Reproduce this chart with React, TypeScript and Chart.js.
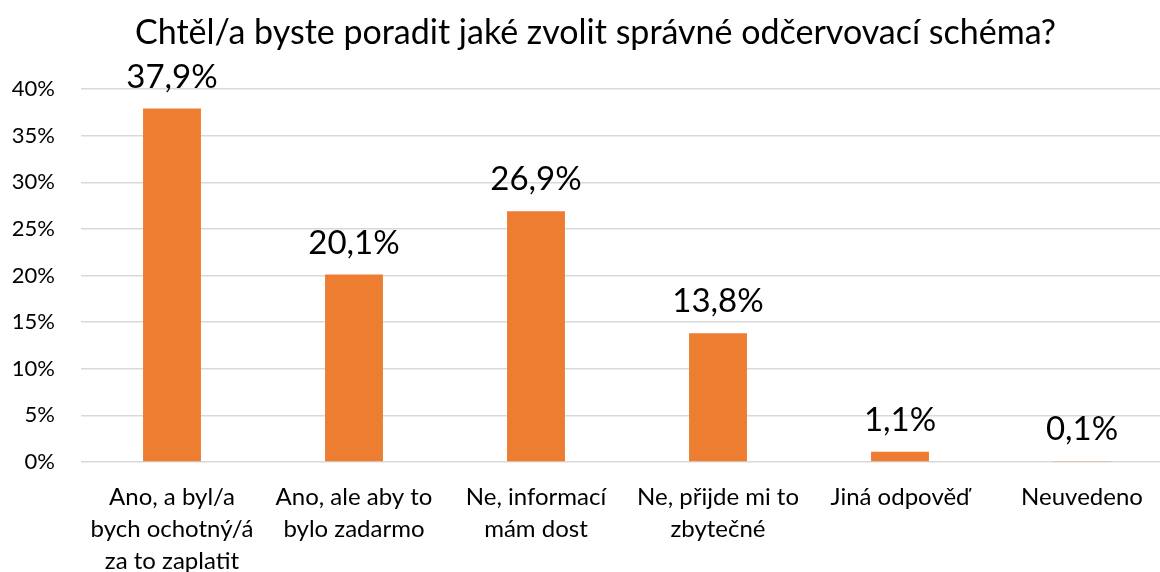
import React, { useEffect, useRef } from "react";
import { Chart, registerables } from "chart.js";

Chart.register(...registerables);

const TITLE = "Chtěl/a byste poradit jaké zvolit správné odčervovací schéma?";
const CATEGORIES: string[][] = [
  ["Ano, a byl/a", "bych ochotný/á", "za to zaplatit"],
  ["Ano, ale aby to", "bylo zadarmo"],
  ["Ne, informací", "mám dost"],
  ["Ne, přijde mi to", "zbytečné"],
  ["Jiná odpověď"],
  ["Neuvedeno"],
];
const VALUES: number[] = [37.9, 20.1, 26.9, 13.8, 1.1, 0.1];
const Y_MIN = 0;
const Y_MAX = 40;
const Y_STEP = 5;

const FONT = "Lato, 'Open Sans', sans-serif";
const BAR_COLOR = "#ED7D31";
const GRID_COLOR = "#D9D9D9";

const fmt = (v: number) => v.toFixed(1).replace(".", ",") + "%";

const valueLabels = {
  id: "valueLabels",
  afterDatasetsDraw(chart: any) {
    const ctx = chart.ctx;
    const meta = chart.getDatasetMeta(0);
    ctx.save();
    ctx.font = `33px ${FONT}`;
    ctx.fillStyle = "#000";
    ctx.textAlign = "center";
    ctx.textBaseline = "alphabetic";
    meta.data.forEach((bar: any, i: number) => {
      const v = chart.data.datasets[0].data[i];
      ctx.fillText(fmt(v), bar.x, bar.y - 21);
    });
    ctx.restore();
  },
};

const titlePlugin = {
  id: "customTitle",
  afterDraw(chart: any) {
    const ctx = chart.ctx;
    ctx.save();
    ctx.font = `34px ${FONT}`;
    ctx.fillStyle = "#000";
    ctx.textAlign = "center";
    ctx.textBaseline = "alphabetic";
    ctx.fillText(TITLE, 595.5, 44);
    ctx.restore();
  },
};

export default function App() {
  const ref = useRef<HTMLCanvasElement | null>(null);

  useEffect(() => {
    if (!ref.current) return;
    const chart = new Chart(ref.current, {
      type: "bar",
      data: {
        labels: CATEGORIES,
        datasets: [
          {
            data: VALUES,
            backgroundColor: BAR_COLOR,
            borderWidth: 0,
            categoryPercentage: 1,
            barPercentage: 0.318,
          },
        ],
      },
      options: {
        animation: false,
        responsive: false,
        devicePixelRatio: 1,
        layout: { padding: { left: 0, right: 19, top: 89, bottom: 0 } },
        plugins: {
          legend: { display: false },
          tooltip: { enabled: false },
          title: { display: false },
        },
        scales: {
          x: {
            grid: { display: false, drawTicks: false },
            border: { display: false },
            ticks: {
              color: "#000",
              font: { family: FONT, size: 24, lineHeight: 1.333 },
              padding: 19,
              maxRotation: 0,
              autoSkip: false,
            },
            afterFit: (s: any) => {
              s.height = 110;
            },
          },
          y: {
            min: Y_MIN,
            max: Y_MAX,
            grid: { color: GRID_COLOR, lineWidth: 1.5, drawTicks: false },
            border: { display: false },
            ticks: {
              stepSize: Y_STEP,
              color: "#000",
              font: { family: FONT, size: 22 },
              padding: 26,
              callback: (v: any) => v + "%",
            },
            afterFit: (s: any) => {
              s.width = 81;
            },
          },
        },
      },
      plugins: [valueLabels, titlePlugin],
    });
    return () => chart.destroy();
  }, []);

  return (
    <div
      style={{
        position: "fixed",
        left: 0,
        top: 0,
        width: 1160,
        height: 572,
        overflow: "hidden",
        background: "#fff",
      }}
    >
      <canvas
        ref={ref}
        width={1192}
        height={572}
        role="img"
        aria-label={TITLE}
        style={{ display: "block", width: 1192, height: 572 }}
      />
    </div>
  );
}
